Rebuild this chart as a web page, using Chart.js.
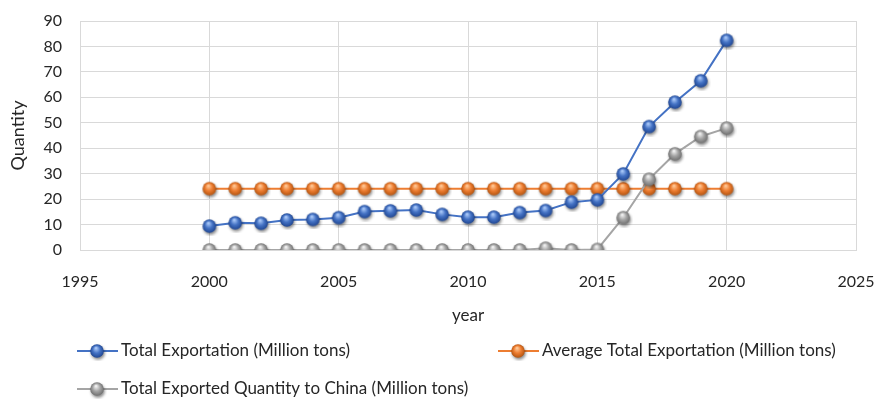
<!DOCTYPE html>
<html>
<head>
<meta charset="utf-8">
<script src="https://cdn.jsdelivr.net/npm/chart.js@4/dist/chart.umd.min.js"></script>
<style>
  html, body { margin: 0; padding: 0; background: #fff; }
  #wrap { width: 875px; height: 400px; }
</style>
</head>
<body>
<div id="wrap"><canvas id="exportChart" width="875" height="400"></canvas></div>
<script>
// Export figures per year
const years = [2000, 2001, 2002, 2003, 2004, 2005, 2006, 2007, 2008, 2009, 2010,
               2011, 2012, 2013, 2014, 2015, 2016, 2017, 2018, 2019, 2020];
const totalExport = [9.4, 10.7, 10.5, 11.8, 12.0, 12.7, 15.1, 15.4, 15.7, 14.0, 12.9,
                     12.9, 14.7, 15.5, 18.8, 19.7, 29.9, 48.5, 58.1, 66.5, 82.4];
const avgExport = [24.1, 24.1, 24.1, 24.1, 24.1, 24.1, 24.1, 24.1, 24.1, 24.1, 24.1,
                   24.1, 24.1, 24.1, 24.1, 24.1, 24.1, 24.1, 24.1, 24.1, 24.1];
const chinaExport = [0, 0, 0, 0, 0, 0, 0, 0, 0, 0, 0,
                     0, 0, 0.7, 0, 0.2, 12.7, 27.8, 37.8, 44.6, 47.9];
const seriesNames = ["Total Exportation (Million tons)",
                     "Average Total Exportation (Million tons)",
                     "Total Exported Quantity to China (Million tons)"];

const FONT = "Lato, 'Liberation Sans', sans-serif";
const TEXT = "#262626";

// small shaded ball used as the point marker
function makeBall(base, light, dark) {
    const c = document.createElement("canvas");
    c.width = 20; c.height = 20;
    const g = c.getContext("2d");
    g.shadowColor = "rgba(0,0,0,0.45)";
    g.shadowBlur = 3;
    g.shadowOffsetX = 1;
    g.shadowOffsetY = 2;
    const grad = g.createRadialGradient(9, 7, 0.5, 10, 10, 7);
    grad.addColorStop(0, light);
    grad.addColorStop(0.5, base);
    grad.addColorStop(1, dark);
    g.fillStyle = grad;
    g.beginPath();
    g.arc(10, 10, 6.8, 0, Math.PI * 2);
    g.fill();
    return c;
}

const blueBall = makeBall("#4472C4", "#a9c8f8", "#1f4590");
const orangeBall = makeBall("#ED7D31", "#ffc896", "#b2530f");
const grayBall = makeBall("#A5A5A5", "#f2f2f2", "#6e6e6e");

function toPoints(vals) {
    return years.map((y, i) => ({ x: y, y: vals[i] }));
}

// legend drawn underneath the plot in two rows
const bottomLegend = {
    id: "bottomLegend",
    afterDraw(chart) {
        const ctx = chart.ctx;
        const items = [
            { x: 77, y: 351, color: "#4472C4", ball: blueBall, text: seriesNames[0] },
            { x: 498, y: 351, color: "#ED7D31", ball: orangeBall, text: seriesNames[1] },
            { x: 77, y: 389, color: "#A5A5A5", ball: grayBall, text: seriesNames[2] }
        ];
        ctx.save();
        items.forEach(it => {
            ctx.strokeStyle = it.color;
            ctx.lineWidth = 2;
            ctx.beginPath();
            ctx.moveTo(it.x, it.y);
            ctx.lineTo(it.x + 41, it.y);
            ctx.stroke();
            ctx.drawImage(it.ball, it.x + 20 - 10, it.y - 10);
            ctx.fillStyle = TEXT;
            ctx.font = "17px " + FONT;
            ctx.textBaseline = "middle";
            ctx.textAlign = "left";
            ctx.fillText(it.text, it.x + 44, it.y);
        });
        ctx.restore();
    }
};

const ctx = document.getElementById("exportChart").getContext("2d");

new Chart(ctx, {
    type: "line",
    data: {
        datasets: [
            {
                label: seriesNames[0],
                data: toPoints(totalExport),
                borderColor: "#4472C4",
                borderWidth: 2,
                pointStyle: blueBall,
                order: 2
            },
            {
                label: seriesNames[1],
                data: toPoints(avgExport),
                borderColor: "#ED7D31",
                borderWidth: 2,
                pointStyle: orangeBall,
                order: 3
            },
            {
                label: seriesNames[2],
                data: toPoints(chinaExport),
                borderColor: "#A5A5A5",
                borderWidth: 2,
                pointStyle: grayBall,
                order: 1
            }
        ]
    },
    options: {
        responsive: false,
        animation: false,
        layout: { padding: { top: 21, right: 19, bottom: 70, left: 0 } },
        plugins: {
            legend: { display: false },
            tooltip: { enabled: false }
        },
        scales: {
            x: {
                type: "linear",
                min: 1995,
                max: 2025,
                afterFit(scale) { scale.height = 80; },
                ticks: {
                    stepSize: 5,
                    padding: 0,
                    color: TEXT,
                    font: { family: FONT, size: 16 },
                    callback: v => String(v)
                },
                // invisible tick marks push the labels away from the axis
                grid: { color: "#d9d9d9", drawTicks: true, tickLength: 22, tickColor: "rgba(0,0,0,0)" },
                border: { color: "#d9d9d9" },
                title: {
                    display: true,
                    text: "year",
                    color: TEXT,
                    font: { family: FONT, size: 17 }
                }
            },
            y: {
                min: 0,
                max: 90,
                afterFit(scale) { scale.width = 80; },
                ticks: {
                    stepSize: 10,
                    padding: 0,
                    color: TEXT,
                    font: { family: FONT, size: 16 }
                },
                grid: { color: "#d9d9d9", drawTicks: true, tickLength: 18, tickColor: "rgba(0,0,0,0)" },
                border: { color: "#d9d9d9" },
                title: {
                    display: true,
                    text: "Quantity",
                    color: TEXT,
                    padding: { top: 7, bottom: 4 },
                    font: { family: FONT, size: 18 }
                }
            }
        },
        elements: {
            line: { tension: 0 },
            point: { radius: 7 }
        }
    },
    plugins: [bottomLegend]
});
</script>
</body>
</html>
